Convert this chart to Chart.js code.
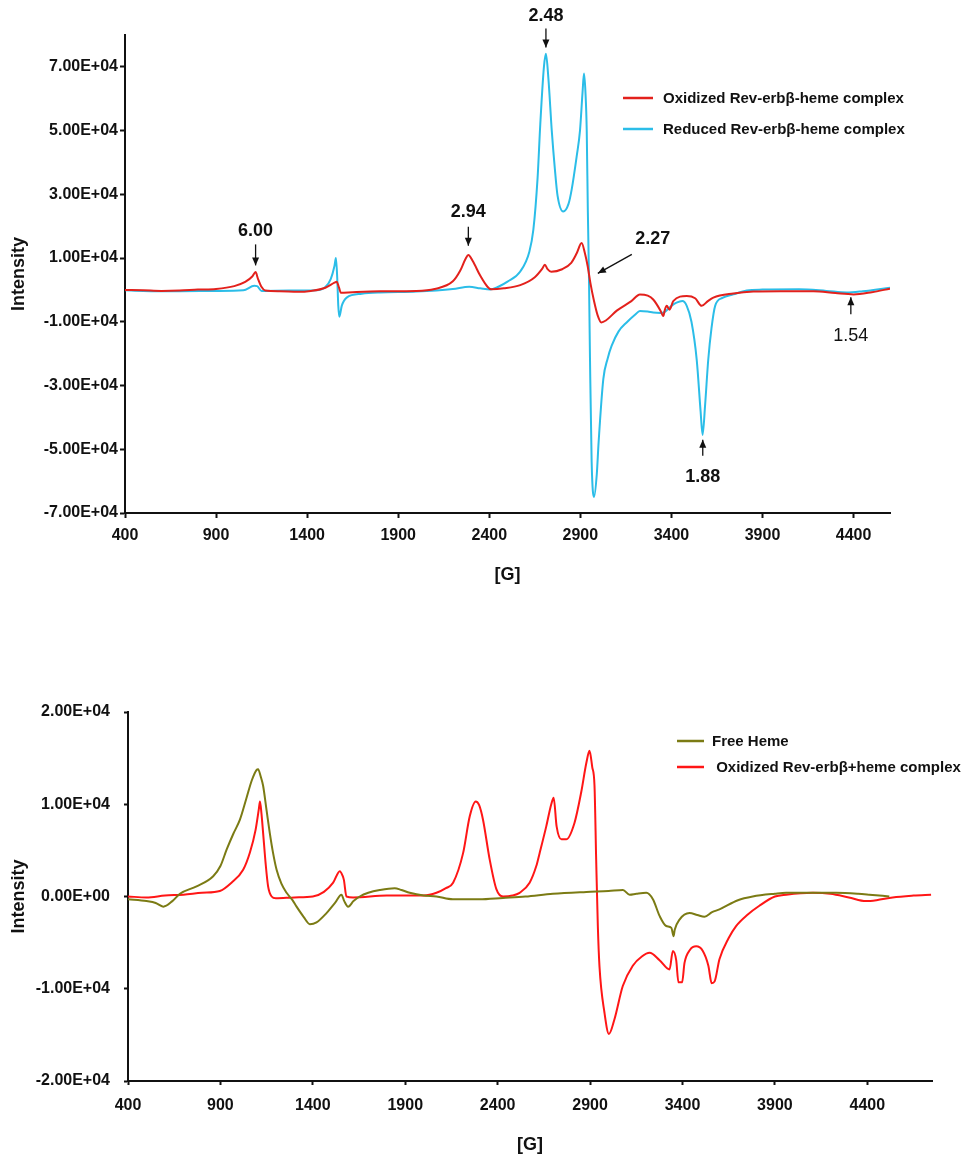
<!DOCTYPE html>
<html>
<head>
<meta charset="utf-8">
<script src="https://cdn.jsdelivr.net/npm/chart.js@4.4.1/dist/chart.umd.min.js"></script>
<style>
  html, body { margin: 0; padding: 0; background: #ffffff; }
  #wrap { position: relative; width: 962px; height: 1157px; }
  canvas { position: absolute; left: 0; }
</style>
</head>
<body>
<div id="wrap">
  <canvas id="epr-top" width="962" height="600" style="top:0px"></canvas>
  <canvas id="epr-bottom" width="962" height="557" style="top:600px"></canvas>
</div>
<script>
// ---------- Field axis ticks (Gauss) ----------
const fieldTicks = [400, 900, 1400, 1900, 2400, 2900, 3400, 3900, 4400];

// ---------- Upper panel: oxidized vs reduced Rev-erbβ-heme ----------
const topYTicks = [-70000, -50000, -30000, -10000, 10000, 30000, 50000, 70000];

const oxField = [400, 500, 600, 700, 800, 900, 1000, 1060, 1100, 1117, 1130, 1150, 1170, 1250, 1350, 1420, 1500, 1550, 1562, 1575, 1585, 1650, 1800, 2000, 2100, 2200, 2240, 2270, 2285, 2310, 2350, 2390, 2410, 2480, 2570, 2650, 2690, 2705, 2720, 2740, 2800, 2850, 2880, 2907, 2925, 2940, 2955, 2975, 2995, 3015, 3040, 3100, 3180, 3227, 3270, 3300, 3340, 3355, 3365, 3374, 3390, 3410, 3484, 3530, 3566, 3600, 3630, 3740, 3850, 4000, 4180, 4300, 4400, 4500, 4600];
const oxIntensity = [0, -100, -300, -200, 100, 300, 1200, 2500, 4300, 5600, 3500, 900, -200, -400, -600, -300, 700, 2300, 2600, 700, -900, -700, -400, -300, 300, 2700, 6000, 9800, 11000, 9000, 4500, 1000, 200, 500, 1500, 4000, 6600, 7900, 6500, 5700, 6500, 8500, 11500, 14700, 11500, 7500, 2200, -3500, -8000, -10200, -9600, -6500, -3500, -1400, -1800, -3000, -6500, -8200, -6000, -5000, -6200, -3500, -1900, -2600, -5000, -3500, -2400, -1100, -500, -400, -400, -1000, -1400, -700, 400];

const redField = [400, 500, 700, 900, 1050, 1110, 1125, 1150, 1300, 1450, 1500, 1530, 1550, 1558, 1565, 1571, 1577, 1590, 1617, 1700, 1800, 2000, 2200, 2290, 2350, 2404, 2450, 2500, 2570, 2620, 2642, 2665, 2680, 2700, 2711, 2725, 2743, 2760, 2775, 2806, 2835, 2852, 2880, 2898, 2912, 2920, 2928, 2935, 2941, 2947, 2953, 2962, 2975, 2990, 3000, 3026, 3050, 3072, 3110, 3154, 3200, 3227, 3270, 3300, 3340, 3360, 3400, 3428, 3460, 3484, 3510, 3539, 3560, 3571, 3585, 3602, 3620, 3640, 3680, 3740, 3813, 3900, 4100, 4250, 4362, 4450, 4600];
const redIntensity = [-100, -300, -400, -300, -100, 1300, 1200, -300, -200, -100, 900, 3500, 7500, 10000, 4000, -5000, -8400, -5000, -2400, -1200, -800, -500, 300, 1000, 500, 100, 1000, 2600, 5800, 12000, 18900, 35000, 52000, 70000, 74100, 66000, 50000, 38000, 29500, 24600, 27000, 31400, 42000, 50000, 62000, 67900, 62000, 50000, 25000, 5000, -22000, -54000, -65000, -58000, -48000, -28000, -21500, -17500, -13000, -10200, -7800, -6600, -6800, -7100, -7200, -7000, -5000, -4000, -3500, -5000, -10000, -22000, -38000, -45500, -36000, -22000, -12000, -5000, -2500, -1400, -200, 100, 200, -300, -800, -400, 700];

// g-value markers: label, field position and intensity at the arrow tip
const topNoteLabels = ['6.00', '2.94', '2.48', '2.27', '1.88', '1.54'];
const topNoteFields = [1117, 2285, 2711, 2996, 3572, 4385];
const topNoteIntensity = [7700, 13900, 76100, 5200, -47000, -2300];

// ---------- Lower panel: free heme vs oxidized complex ----------
const bottomYTicks = [-20000, -10000, 0, 10000, 20000];

const hemeField = [400, 500, 550, 591, 640, 681, 771, 861, 900, 934, 970, 1005, 1040, 1070, 1095, 1104, 1118, 1131, 1150, 1167, 1185, 1204, 1230, 1258, 1290, 1312, 1350, 1384, 1420, 1474, 1520, 1555, 1570, 1591, 1620, 1654, 1700, 1762, 1843, 1880, 1924, 2000, 2069, 2157, 2300, 2429, 2550, 2699, 2880, 3000, 3078, 3114, 3150, 3204, 3240, 3276, 3312, 3340, 3352, 3358, 3384, 3438, 3480, 3519, 3560, 3600, 3700, 3780, 3900, 3961, 4100, 4231, 4350, 4411, 4519];
const hemeIntensity = [-300, -500, -700, -1100, -500, 300, 1100, 2200, 3300, 5100, 6800, 8300, 10600, 12600, 13700, 13800, 13000, 12000, 9300, 6900, 4700, 2900, 1400, 400, -400, -1100, -2200, -3000, -2800, -1800, -700, 200, -500, -1100, -500, 0, 400, 700, 900, 700, 400, 100, 0, -300, -300, -150, 0, 300, 500, 600, 700, 200, 300, 400, -300, -2100, -3200, -3400, -4300, -3600, -2500, -1800, -2000, -2200, -1700, -1400, -400, 0, 300, 400, 400, 400, 300, 200, 0];

const complexField = [400, 500, 600, 700, 800, 897, 960, 1023, 1060, 1090, 1108, 1114, 1122, 1131, 1145, 1158, 1177, 1200, 1300, 1400, 1460, 1510, 1546, 1560, 1568, 1582, 1618, 1800, 2000, 2069, 2120, 2159, 2213, 2249, 2281, 2300, 2321, 2357, 2393, 2429, 2480, 2519, 2573, 2609, 2627, 2663, 2690, 2703, 2719, 2745, 2771, 2816, 2852, 2880, 2897, 2912, 2924, 2933, 2942, 2951, 2978, 3002, 3032, 3077, 3131, 3180, 3222, 3276, 3330, 3348, 3366, 3378, 3398, 3411, 3440, 3474, 3510, 3540, 3558, 3574, 3600, 3650, 3690, 3750, 3816, 3900, 3961, 4105, 4200, 4300, 4393, 4450, 4537, 4650, 4745];
const complexIntensity = [0, -100, 100, 200, 400, 600, 1500, 2900, 4800, 7200, 9500, 10300, 9000, 6900, 3500, 1100, 0, -200, -100, 0, 500, 1500, 2750, 2300, 1800, 0, -100, 100, 100, 400, 900, 1500, 4700, 8700, 10300, 9900, 8300, 4000, 800, 0, 100, 400, 1500, 3300, 4700, 7600, 10000, 10700, 7600, 6200, 6200, 8000, 11300, 14500, 15800, 14000, 12000, 4000, -3200, -7600, -12600, -14900, -13300, -9700, -7500, -6500, -6100, -6900, -7900, -5900, -6900, -9300, -9300, -7200, -5800, -5400, -5900, -7500, -9400, -9200, -6800, -4500, -3200, -2000, -1000, 0, 200, 400, 300, -100, -500, -400, -100, 100, 200];

// ---------- Shared styling ----------
const FONT = '"Liberation Sans", Arial, Helvetica, sans-serif';
const INK = '#111111';

function sciLabel(v) {
  if (v === 0) return '0.00E+00';
  const e = Math.floor(Math.log10(Math.abs(v)));
  const m = v / Math.pow(10, e);
  return m.toFixed(2) + 'E' + (e < 0 ? '-' : '+') + String(Math.abs(e)).padStart(2, '0');
}

function points(xs, ys) {
  return xs.map((x, i) => ({ x: x, y: ys[i] }));
}

function series(label, xs, ys, color) {
  return {
    label: label,
    data: points(xs, ys),
    borderColor: color,
    backgroundColor: color,
    borderWidth: 2,
    pointRadius: 0,
    cubicInterpolationMode: 'monotone',
    fill: false
  };
}

function makeScales(o) {
  return {
    x: {
      type: 'linear',
      min: o.xMin,
      max: o.xMax,
      afterBuildTicks: s => { s.ticks = fieldTicks.map(value => ({ value })); },
      afterFit: s => { s.height = o.xHeight; },
      grid: { drawOnChartArea: false, drawTicks: true, tickLength: o.tickLen, tickColor: INK, tickWidth: 2 },
      border: { display: true, color: INK, width: 2 },
      ticks: { color: INK, autoSkip: false, maxRotation: 0, padding: o.xPad,
               callback: v => String(v),
               font: { family: FONT, size: 16, weight: 'bold' } },
      title: { display: true, text: '[G]', color: INK,
               font: { family: FONT, size: 18, weight: 'bold' },
               padding: { top: 0, bottom: o.gPad } }
    },
    y: {
      type: 'linear',
      min: o.yMin,
      max: o.yMax,
      afterBuildTicks: s => { s.ticks = o.yTicks.map(value => ({ value })); },
      afterFit: s => { s.width = o.yWidth; },
      grid: { drawOnChartArea: false, drawTicks: true, tickLength: o.tickLen, tickColor: INK, tickWidth: 2 },
      border: { display: true, color: INK, width: 2 },
      ticks: { color: INK, padding: o.yPad, callback: v => sciLabel(v),
               font: { family: FONT, size: 16, weight: 'bold' } },
      title: { display: true, text: 'Intensity', color: INK,
               font: { family: FONT, size: 18, weight: 'bold' },
               padding: { top: 8, bottom: 0 } }
    }
  };
}

// Line-sample legend drawn inside the plot
const lineLegend = {
  id: 'lineLegend',
  afterDraw(chart, args, opts) {
    const ctx = chart.ctx;
    ctx.save();
    chart.data.datasets.forEach((ds, i) => {
      const y = opts.y + i * opts.gap;
      ctx.strokeStyle = ds.borderColor;
      ctx.lineWidth = 2.5;
      ctx.beginPath();
      ctx.moveTo(opts.x, y);
      ctx.lineTo(opts.x + opts.len, y);
      ctx.stroke();
      ctx.fillStyle = INK;
      ctx.font = 'bold 15px ' + FONT;
      ctx.textBaseline = 'middle';
      ctx.textAlign = 'left';
      ctx.fillText(ds.label, opts.x + opts.len + opts.textGap, y + 1);
    });
    ctx.restore();
  }
};

// g-value arrows anchored to (field, intensity) on the scales
const gMarkers = {
  id: 'gMarkers',
  afterDraw(chart, args, opts) {
    if (!opts.labels) return;
    const ctx = chart.ctx;
    const xs = chart.scales.x, ys = chart.scales.y;
    ctx.save();
    opts.labels.forEach((label, i) => {
      const st = opts.styles[i];
      const tx = xs.getPixelForValue(opts.fields[i]);
      const ty = ys.getPixelForValue(opts.intensity[i]);
      const sx = tx + st.tail[0], sy = ty + st.tail[1];
      ctx.strokeStyle = INK;
      ctx.fillStyle = INK;
      ctx.lineWidth = 1.3;
      ctx.beginPath();
      ctx.moveTo(sx, sy);
      ctx.lineTo(tx, ty);
      ctx.stroke();
      const ang = Math.atan2(ty - sy, tx - sx);
      const hl = 8, hw = 3.5;
      ctx.beginPath();
      ctx.moveTo(tx, ty);
      ctx.lineTo(tx - hl * Math.cos(ang) + hw * Math.sin(ang), ty - hl * Math.sin(ang) - hw * Math.cos(ang));
      ctx.lineTo(tx - hl * Math.cos(ang) - hw * Math.sin(ang), ty - hl * Math.sin(ang) + hw * Math.cos(ang));
      ctx.closePath();
      ctx.fill();
      ctx.font = (st.bold ? 'bold ' : '') + '18px ' + FONT;
      ctx.textAlign = 'center';
      ctx.textBaseline = 'middle';
      ctx.fillText(label, tx + st.text[0], ty + st.text[1]);
    });
    ctx.restore();
  }
};

const topNoteStyles = [
  { tail: [0, -21], text: [0, -34], bold: true },
  { tail: [0, -19], text: [0, -34], bold: true },
  { tail: [0, -19], text: [0, -31], bold: true },
  { tail: [34, -19], text: [55, -34], bold: true },
  { tail: [0, 16], text: [0, 37], bold: true },
  { tail: [0, 17], text: [0, 39], bold: false }
];

Chart.defaults.font.family = FONT;

new Chart(document.getElementById('epr-top'), {
  type: 'line',
  data: {
    datasets: [
      series('Oxidized Rev-erbβ-heme complex', oxField, oxIntensity, '#e3211c'),
      series('Reduced Rev-erbβ-heme complex', redField, redIntensity, '#2bbde8')
    ]
  },
  options: {
    responsive: false,
    animation: false,
    devicePixelRatio: 1,
    layout: { padding: { left: 0, right: 72, top: 35, bottom: 0 } },
    scales: makeScales({ xMin: 400, xMax: 4600, yMin: -70000, yMax: 80000, yTicks: topYTicks,
                         xHeight: 87, yWidth: 125, tickLen: 5, xPad: 8, yPad: 2, gPad: 14 }),
    plugins: {
      legend: { display: false },
      tooltip: { enabled: false },
      lineLegend: { x: 623, y: 98, gap: 31, len: 30, textGap: 10 },
      gMarkers: { labels: topNoteLabels, fields: topNoteFields, intensity: topNoteIntensity, styles: topNoteStyles }
    }
  },
  plugins: [lineLegend, gMarkers]
});

new Chart(document.getElementById('epr-bottom'), {
  type: 'line',
  data: {
    datasets: [
      series('Free Heme', hemeField, hemeIntensity, '#7b7b14'),
      series(' Oxidized Rev-erbβ+heme complex', complexField, complexIntensity, '#ff1616')
    ]
  },
  options: {
    responsive: false,
    animation: false,
    devicePixelRatio: 1,
    layout: { padding: { left: 0, right: 30, top: 112, bottom: 0 } },
    scales: makeScales({ xMin: 400, xMax: 4750, yMin: -20000, yMax: 20000, yTicks: bottomYTicks,
                         xHeight: 76, yWidth: 128, tickLen: 4, xPad: 11, yPad: 14, gPad: 1 }),
    plugins: {
      legend: { display: false },
      tooltip: { enabled: false },
      lineLegend: { x: 677, y: 141, gap: 26, len: 27, textGap: 8 }
    }
  },
  plugins: [lineLegend, gMarkers]
});
</script>
</body>
</html>
